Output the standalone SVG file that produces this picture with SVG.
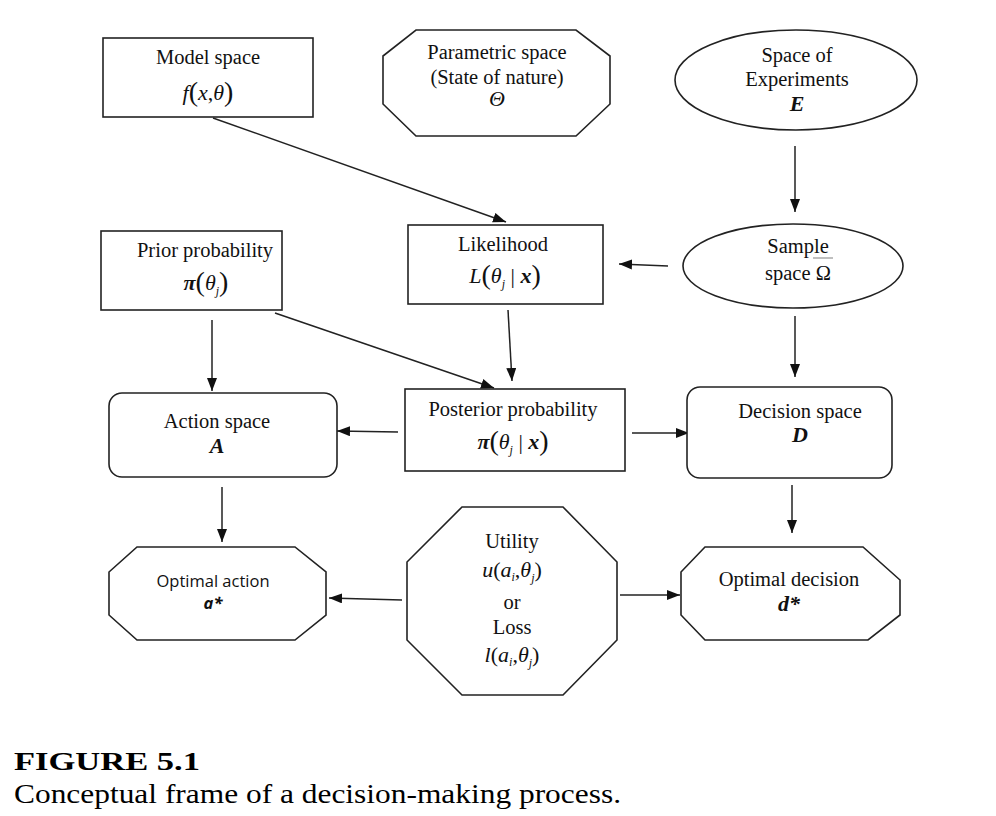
<svg xmlns="http://www.w3.org/2000/svg" width="996" height="816" viewBox="0 0 996 816">
<style>
.nd{fill:#fff;stroke:#222;stroke-width:1.6}
.t{font-family:"Liberation Serif","Times New Roman",serif;font-size:20.5px;fill:#111;text-anchor:middle}
.m{font-family:"Liberation Serif","Times New Roman",serif;font-size:22px;fill:#111;text-anchor:middle}
.i{font-style:italic}
.bi{font-style:italic;font-weight:bold}
.bp{font-size:28px;font-style:normal;font-weight:normal}
.sb{font-size:12px;font-style:italic}
.s{font-family:"Open Sans","Liberation Sans",sans-serif;font-size:16.5px;fill:#111;text-anchor:middle}
.c{stroke:#222;stroke-width:1.5;fill:none;marker-end:url(#ah)}
.cap{font-family:"Liberation Serif","Times New Roman",serif;fill:#000}
</style>
<defs>
<marker id="ah" markerUnits="userSpaceOnUse" markerWidth="14" markerHeight="12" refX="13" refY="5" orient="auto">
<path d="M0,0 L13,5 L0,10 z" fill="#111"/>
</marker>
</defs>
<rect width="996" height="816" fill="#fff"/>

<g id="connectors">
<line class="c" x1="213" y1="118" x2="506" y2="222"/>
<line class="c" x1="795" y1="146" x2="795" y2="212"/>
<line class="c" x1="668" y1="266" x2="619" y2="264"/>
<line class="c" x1="212" y1="320" x2="212" y2="391"/>
<line class="c" x1="275" y1="313" x2="494" y2="388"/>
<line class="c" x1="508" y1="310" x2="512" y2="381"/>
<line class="c" x1="795" y1="316" x2="795" y2="377"/>
<line class="c" x1="398" y1="432" x2="337" y2="431"/>
<line class="c" x1="632" y1="433" x2="689" y2="433"/>
<line class="c" x1="222" y1="487" x2="222" y2="542"/>
<line class="c" x1="792" y1="485" x2="792" y2="533"/>
<line class="c" x1="402" y1="600" x2="329" y2="598"/>
<line class="c" x1="620" y1="595" x2="680" y2="595"/>
</g>

<g id="model">
<rect class="nd" x="103" y="38" width="210" height="79"/>
<text class="t" x="208" y="64">Model space</text>
<text class="m" x="208" y="100"><tspan class="i">f</tspan><tspan class="bp" dy="1">(</tspan><tspan class="i" dy="-1">x</tspan>,<tspan class="i">θ</tspan><tspan class="bp" dy="1">)</tspan></text>
</g>

<g id="parametric">
<polygon class="nd" points="416,30 576,30 610,56 610,104 576,136 416,136 383,104 383,56"/>
<text class="t" x="497" y="59">Parametric space</text>
<text class="t" x="497" y="84">(State of nature)</text>
<text class="m i" x="497" y="106" font-size="19">Θ</text>
</g>

<g id="experiments">
<ellipse class="nd" cx="796" cy="80" rx="121" ry="50"/>
<text class="t" x="797" y="62">Space of</text>
<text class="t" x="797" y="86">Experiments</text>
<text class="m bi" x="797" y="111">E</text>
</g>

<g id="prior">
<rect class="nd" x="101" y="231" width="181" height="79"/>
<text class="t" x="205" y="257">Prior probability</text>
<text class="m" x="206" y="290"><tspan class="bi">π</tspan><tspan class="bp" dy="1">(</tspan><tspan class="i" dy="-1">θ</tspan><tspan class="sb" dy="5">j</tspan><tspan class="bp" dy="-4">)</tspan></text>
</g>

<g id="likelihood">
<rect class="nd" x="408" y="225" width="195" height="79"/>
<text class="t" x="503" y="251">Likelihood</text>
<text class="m" x="505" y="283"><tspan class="i">L</tspan><tspan class="bp" dy="1">(</tspan><tspan class="i" dy="-1">θ</tspan><tspan class="sb" dy="5">j</tspan><tspan dy="-5"> | </tspan><tspan class="bi">x</tspan><tspan class="bp" dy="1">)</tspan></text>
</g>

<g id="sample">
<ellipse class="nd" cx="793" cy="266" rx="110" ry="42"/>
<text class="t" x="798" y="253">Sample</text>
<line x1="813" y1="258" x2="833" y2="258" stroke="#aaa" stroke-width="1.5"/>
<text class="t" x="798" y="280">space Ω</text>
</g>

<g id="action">
<rect class="nd" x="109" y="393" width="228" height="84" rx="13"/>
<text class="t" x="217" y="428">Action space</text>
<text class="m bi" x="217" y="453" font-size="19">A</text>
</g>

<g id="posterior">
<rect class="nd" x="405" y="389" width="220" height="82"/>
<text class="t" x="513" y="416">Posterior probability</text>
<text class="m" x="513" y="449"><tspan class="bi">π</tspan><tspan class="bp" dy="1">(</tspan><tspan class="i" dy="-1">θ</tspan><tspan class="sb" dy="5">j</tspan><tspan dy="-5"> | </tspan><tspan class="bi">x</tspan><tspan class="bp" dy="1">)</tspan></text>
</g>

<g id="decision">
<rect class="nd" x="687" y="387" width="205" height="91" rx="13"/>
<text class="t" x="800" y="418">Decision space</text>
<text class="m bi" x="800" y="442" font-size="19">D</text>
</g>

<g id="optaction">
<polygon class="nd" points="137,547 295,547 326,572 326,615 295,640 137,640 109,615 109,572"/>
<text class="s" x="213" y="587">Optimal action</text>
<text class="s bi" x="213" y="609" font-size="15">a*</text>
</g>

<g id="utility">
<polygon class="nd" points="462,507 563,507 617,562 617,640 563,695 462,695 407,640 407,562"/>
<text class="t" x="512" y="548">Utility</text>
<text class="m" x="512" y="577"><tspan class="i">u</tspan>(<tspan class="i">a</tspan><tspan class="sb" dy="4">i</tspan><tspan dy="-4">,</tspan><tspan class="i">θ</tspan><tspan class="sb" dy="5">j</tspan><tspan dy="-5">)</tspan></text>
<text class="t" x="512" y="609">or</text>
<text class="t" x="512" y="634">Loss</text>
<text class="m" x="512" y="662"><tspan class="i">l</tspan>(<tspan class="i">a</tspan><tspan class="sb" dy="4">i</tspan><tspan dy="-4">,</tspan><tspan class="i">θ</tspan><tspan class="sb" dy="5">j</tspan><tspan dy="-5">)</tspan></text>
</g>

<g id="optdecision">
<polygon class="nd" points="705,547 863,547 900,580 900,615 868,640 705,640 681,615 681,572"/>
<text class="t" x="789" y="586">Optimal decision</text>
<text class="m bi" x="789" y="611" font-size="18">d*</text>
</g>

<g id="caption">
<text class="cap" x="14" y="770" font-size="25" font-weight="bold" textLength="186" lengthAdjust="spacingAndGlyphs">FIGURE 5.1</text>
<text class="cap" x="14" y="803" font-size="27" textLength="607" lengthAdjust="spacingAndGlyphs">Conceptual frame of a decision-making process.</text>
</g>
</svg>
